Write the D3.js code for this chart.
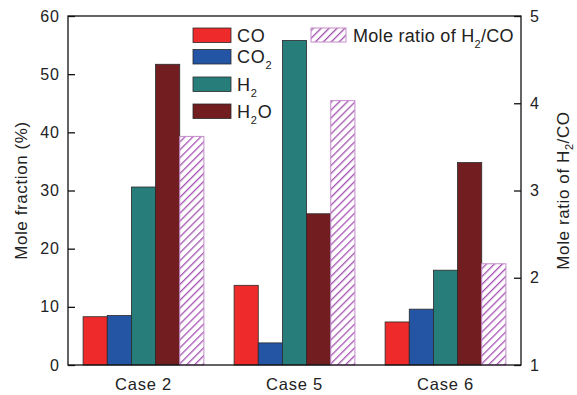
<!DOCTYPE html>
<html>
<head>
<meta charset="utf-8">
<script src="https://cdn.jsdelivr.net/npm/d3@7"></script>
<style>
  body { margin: 0; background: #fff; }
  text { font-family: "Liberation Sans", Arial, sans-serif; fill: #222; }
</style>
</head>
<body>
<div id="chart"></div>
<script>
// data
var cases = ["Case 2", "Case 5", "Case 6"];
var species = ["CO", "CO2", "H2", "H2O"];
var coVals = [8.3, 13.7, 7.4];
var co2Vals = [8.5, 3.8, 9.6];
var h2Vals = [30.6, 55.8, 16.3];
var h2oVals = [51.7, 26.0, 34.8];
var ratioVals = [3.62, 4.03, 2.16];
var leftTicks = [0, 10, 20, 30, 40, 50, 60];
var rightTicks = [1, 2, 3, 4, 5];
var colors = ["#ee2a2b", "#2454a4", "#267d7a", "#721d20"];

var width = 577, height = 395;
var margin = {top: 16, right: 56, bottom: 30, left: 68};
var w = width - margin.left - margin.right,
    h = height - margin.top - margin.bottom;

var svg = d3.select("#chart").append("svg")
  .attr("width", width).attr("height", height);

// hatch pattern for the ratio bars
var defs = svg.append("defs");
var pat = defs.append("pattern")
  .attr("id", "hatch")
  .attr("patternUnits", "userSpaceOnUse")
  .attr("width", 5.6).attr("height", 5.6)
  .attr("patternTransform", "rotate(45)");
pat.append("rect").attr("width", 5.6).attr("height", 5.6).attr("fill", "#fff");
pat.append("line")
  .attr("x1", 0).attr("y1", 0).attr("x2", 0).attr("y2", 5.6)
  .attr("stroke", "#a552b2").attr("stroke-width", 2.6);

var g = svg.append("g")
  .attr("transform", "translate(" + margin.left + "," + margin.top + ")");

var x0 = d3.scaleBand().domain(cases).range([0, w]).paddingInner(0.2).paddingOuter(0.1);
var x1 = d3.scaleBand().domain(species.concat(["ratio"])).range([0, x0.bandwidth()]);
var y = d3.scaleLinear().domain([0, 60]).range([h, 0]);
var yR = d3.scaleLinear().domain([1, 5]).range([h, 0]);

var series = [coVals, co2Vals, h2Vals, h2oVals];

// species bars
cases.forEach(function(c, i) {
  var grp = g.append("g").attr("transform", "translate(" + x0(c) + ",0)");
  species.forEach(function(s, j) {
    grp.append("rect")
      .attr("x", x1(s))
      .attr("y", y(series[j][i]))
      .attr("width", x1.bandwidth())
      .attr("height", h - y(series[j][i]))
      .attr("fill", colors[j])
      .attr("stroke", "#2a2a2a")
      .attr("stroke-width", 0.8);
  });
  grp.append("rect")
    .attr("x", x1("ratio"))
    .attr("y", yR(ratioVals[i]))
    .attr("width", x1.bandwidth())
    .attr("height", h - yR(ratioVals[i]))
    .attr("fill", "url(#hatch)")
    .attr("stroke", "#c58ccc")
    .attr("stroke-width", 1);
});

// frame
g.append("rect")
  .attr("width", w).attr("height", h)
  .attr("fill", "none").attr("stroke", "#111").attr("stroke-width", 1.3);

function styleTicks(sel, size, ls) {
  sel.selectAll("text")
    .style("font-size", size + "px")
    .style("letter-spacing", ls + "px")
    .style("font-family", "Liberation Sans, Arial, sans-serif")
    .attr("fill", "#222");
}

// left axis
var yAxis = d3.axisLeft(y).tickValues(leftTicks).tickSizeInner(-7).tickSizeOuter(0).tickPadding(8);
var ga = g.append("g").call(yAxis);
ga.select(".domain").remove();
ga.selectAll("line").attr("stroke", "#111").attr("stroke-width", 1.3);
styleTicks(ga, 16, 1);

// right axis
var yRAxis = d3.axisRight(yR).tickValues(rightTicks).tickFormat(d3.format("d"))
  .tickSizeInner(-7).tickSizeOuter(0).tickPadding(9);
var gr = g.append("g").attr("transform", "translate(" + w + ",0)").call(yRAxis);
gr.select(".domain").remove();
gr.selectAll("line").attr("stroke", "#111").attr("stroke-width", 1.3);
styleTicks(gr, 16, 1);

// x labels
var xAxis = d3.axisBottom(x0).tickSize(0).tickPadding(13);
var gx = g.append("g").attr("transform", "translate(0," + h + ")").call(xAxis);
gx.select(".domain").remove();
styleTicks(gx, 16.5, 0.8);

// axis titles
svg.append("text")
  .attr("transform", "translate(27," + (margin.top + h / 2) + ") rotate(-90)")
  .attr("text-anchor", "middle")
  .style("font-size", "17px")
  .style("letter-spacing", "0.6px")
  .text("Mole fraction (%)");

var rt = svg.append("text")
  .attr("transform", "translate(569," + (margin.top + h / 2) + ") rotate(-90)")
  .attr("text-anchor", "middle")
  .style("font-size", "17px")
  .style("letter-spacing", "0.6px");
rt.append("tspan").text("Mole ratio of H");
rt.append("tspan").text("2").attr("dy", 4).style("font-size", "11px");
rt.append("tspan").text("/CO").attr("dy", -4);

// legend
var legendLabels = [["CO", ""], ["CO", "2"], ["H", "2"], ["H", "2", "O"]];
var legendY = [28, 49.5, 77, 104];
legendLabels.forEach(function(l, j) {
  svg.append("rect")
    .attr("x", 193).attr("y", legendY[j])
    .attr("width", 38).attr("height", 14.5)
    .attr("fill", colors[j]).attr("stroke", "#2a2a2a").attr("stroke-width", 0.8);
  var t = svg.append("text").attr("x", 237).attr("y", legendY[j] + 13.5)
    .style("font-size", "18px").style("letter-spacing", "0.8px");
  t.append("tspan").text(l[0]);
  if (l[1]) t.append("tspan").text(l[1]).attr("dy", 6).style("font-size", "11px");
  if (l[2]) t.append("tspan").text(l[2]).attr("dy", -6);
});
svg.append("rect")
  .attr("x", 311).attr("y", 28)
  .attr("width", 35).attr("height", 14)
  .attr("fill", "url(#hatch)").attr("stroke", "#c58ccc").attr("stroke-width", 1);
var lt = svg.append("text").attr("x", 353).attr("y", 41.5)
  .style("font-size", "18px").style("letter-spacing", "0.3px");
lt.append("tspan").text("Mole ratio of H");
lt.append("tspan").text("2").attr("dy", 6).style("font-size", "11px");
lt.append("tspan").text("/CO").attr("dy", -6);
</script>
</body>
</html>
